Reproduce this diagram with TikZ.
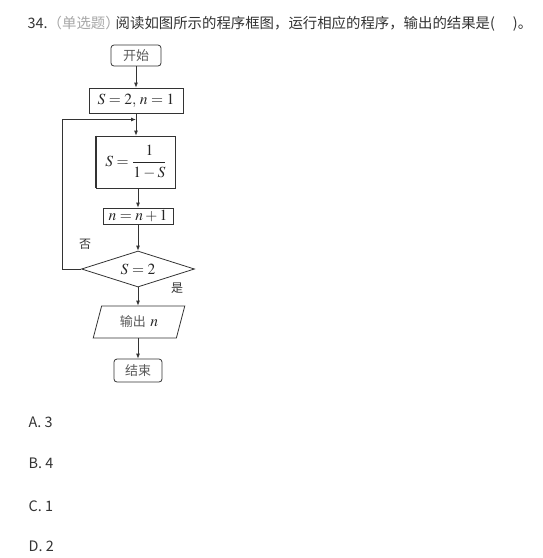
\RequirePackage{fix-cm}
\documentclass[tikz,border=0pt]{standalone}
\usepackage{amsmath}
\usepackage{mathptmx}
\usepackage{fontspec}
\newfontfamily\cjk{Noto Sans CJK SC}
\usetikzlibrary{shapes.geometric,arrows.meta}

\begin{document}
\begin{tikzpicture}[
      x=1pt, y=-1pt,
      line width=0.8pt,
      flow/.style={draw=black!80, text=black!85, inner sep=1pt, font=\fontsize{15.5}{16}\selectfont},
      term/.style={flow, rounded corners=3pt, minimum width=50pt, minimum height=21pt},
      proc/.style={flow, rectangle},
      cond/.style={flow, diamond, aspect=3.1, inner sep=0pt, minimum width=113pt, minimum height=36pt},
      io/.style={flow, trapezium, trapezium left angle=72, trapezium right angle=108,
        trapezium stretches=true, minimum width=92pt, minimum height=32pt},
      lbl/.style={font=\cjk\fontsize{12}{13}\selectfont, text=black!80},
      arr/.style={draw=black!80, -{Latex[length=5pt,width=4pt]}},
      txt/.style={anchor=west, font=\cjk\fontsize{14.4}{16}\selectfont, text=black!80}
    ]
    \useasboundingbox (0,0) rectangle (543,558);
    % enunciado
    \node[txt] (title) at (24,24) {34.{\color{black!35}（单选题}{\color{black!35}）}\hspace{-4pt}阅读如图所示的程序框图，运行相应的程序，输出的结果是(\hspace{18pt})。};
    % fluxograma
    \node[term, font=\cjk\fontsize{13}{14}\selectfont, text=black!65] (start) at (136,55.5) {开始};
    \node[proc, minimum width=94pt, minimum height=25pt] (init) at (136,100.5) {$S=2,\,n=1$};
    \node[proc, minimum width=79pt, minimum height=52pt] (calc) at (136,162) {$S=\dfrac{1}{1-S}$};
    \draw[line width=1.6pt, black!80] (calc.north west) -- (calc.south west);
    \node[proc, minimum width=70pt, minimum height=16pt] (incr) at (138,216) {$n=n+1$};
    \node[cond] (test) at (138,269) {$S=2$};
    \node[io] (out) at (139,322) {{\cjk\fontsize{13}{14}\selectfont\color{black!65}输出} $n$};
    \node[term, font=\cjk\fontsize{13}{14}\selectfont, text=black!65, minimum width=48pt, minimum height=23pt] (stop) at (138,370.5) {结束};
    \node[lbl] (no) at (85,244) {否};
    \node[lbl] (yes) at (177,288) {是};
    \coordinate (merge) at (136,119.5);
    \coordinate (back) at (62,269);

    \draw[arr] (start) -- (init);
    \draw[arr] (init) -- (calc);
    \draw[arr] (calc.south -| incr) -- (incr);
    \draw[arr] (incr) -- (test);
    \draw[arr] (test) -- (out.north -| test);
    \draw[arr] (out.south -| stop) -- (stop);
    \draw[arr] (test.west) -- (back) |- (merge);
    % alternativas
    \node[txt] (optA) at (25,422) {A. 3};
    \node[txt] (optB) at (25,463) {B. 4};
    \node[txt] (optC) at (25,506) {C. 1};
    \node[txt] (optD) at (25,546) {D. 2};
  \end{tikzpicture}
\end{document}
